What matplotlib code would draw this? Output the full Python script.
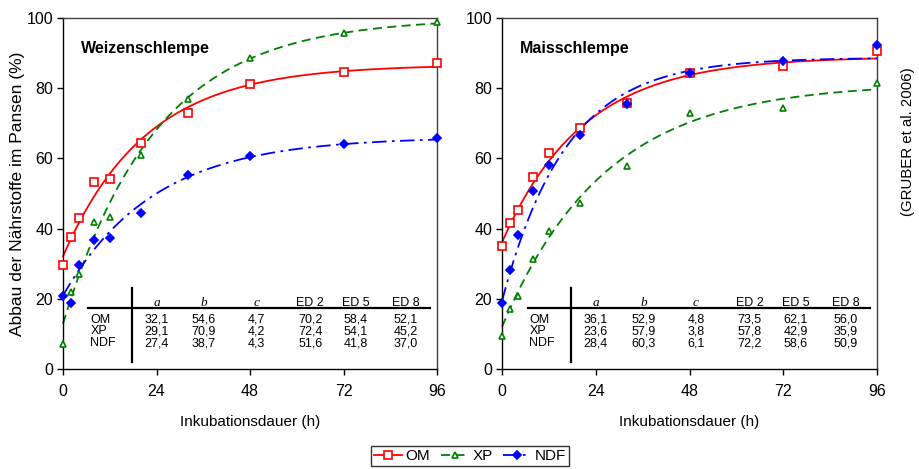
import numpy as np
import matplotlib
matplotlib.use("Agg")
import matplotlib.pyplot as plt
from matplotlib.lines import Line2D

plt.rcParams['font.family'] = ['Liberation Sans', 'DejaVu Sans']

# ---------------- data ----------------
hours = [0, 2, 4, 8, 12, 20, 32, 48, 72, 96]

weizen_om = [29.6, 37.5, 43.0, 53.2, 54.0, 64.5, 73.0, 81.2, 84.6, 87.3]
weizen_xp = [7.0, 22.0, 27.2, 42.0, 43.2, 61.0, 76.8, 88.5, 95.8, 98.9]
weizen_ndf = [20.8, 18.9, 29.5, 36.8, 37.4, 44.5, 55.4, 60.6, 64.0, 65.7]

mais_om = [35.0, 41.5, 45.3, 54.6, 61.6, 68.6, 75.8, 84.3, 86.4, 90.6]
mais_xp = [9.5, 17.0, 20.8, 31.2, 39.4, 47.2, 57.8, 73.0, 74.3, 81.6]
mais_ndf = [18.7, 28.2, 38.3, 50.7, 58.1, 66.8, 75.6, 84.4, 87.8, 92.2]

series_names = ["OM", "XP", "NDF"]
table_cols = ["a", "b", "c", "ED 2", "ED 5", "ED 8"]

weizen_table = [["32,1", "54,6", "4,7", "70,2", "58,4", "52,1"],
                ["29,1", "70,9", "4,2", "72,4", "54,1", "45,2"],
                ["27,4", "38,7", "4,3", "51,6", "41,8", "37,0"]]
mais_table = [["36,1", "52,9", "4,8", "73,5", "62,1", "56,0"],
              ["23,6", "57,9", "3,8", "57,8", "42,9", "35,9"],
              ["28,4", "60,3", "6,1", "72,2", "58,6", "50,9"]]

# fitted model parameters (a, b, c in %/h) and lag time (h)
weizen_a = [32.1, 29.1, 27.4]
weizen_b = [54.6, 70.9, 38.7]
weizen_c = [4.7, 4.2, 4.3]
weizen_lag = [0.0, 4.9, 3.6]
mais_a = [36.1, 23.6, 28.4]
mais_b = [52.9, 57.9, 60.3]
mais_c = [4.8, 3.8, 6.1]
mais_lag = [0.0, 4.8, 2.3]

# ---------------- styles ----------------
colors = ["#FF0000", "#008000", "#0000FF"]
markers = ["s", "^", "D"]
mfc = ["white", "white", "#0000FF"]
msizes = [5.2, 4.8, 4.0]
lstyles = ["-", (0, (5, 3)), (0, (8, 3, 1.5, 3))]

fig = plt.figure(figsize=(9.19, 4.69), dpi=100)
ax1 = fig.add_axes([63 / 919, 1 - 369 / 469, 374 / 919, 351 / 469])
ax2 = fig.add_axes([502 / 919, 1 - 369 / 469, 375 / 919, 351 / 469])

panels = [
    (ax1, "Weizenschlempe", [weizen_om, weizen_xp, weizen_ndf], weizen_table,
     weizen_a, weizen_b, weizen_c, weizen_lag),
    (ax2, "Maisschlempe", [mais_om, mais_xp, mais_ndf], mais_table,
     mais_a, mais_b, mais_c, mais_lag),
]

tt = np.linspace(0, 96, 300)
for ax, title, data, table, A, B, C, L in panels:
    for i in range(3):
        curve = A[i] + B[i] * (1 - np.exp(-C[i] / 100.0 * (tt - L[i])))
        ax.plot(tt, curve, color=colors[i], linestyle=lstyles[i], lw=1.3,
                clip_on=False, zorder=2)
        ax.plot(hours, data[i], linestyle="none", marker=markers[i],
                markersize=msizes[i], markerfacecolor=mfc[i],
                markeredgecolor=colors[i], markeredgewidth=1.2,
                clip_on=False, zorder=3)
    ax.set_xlim(0, 96)
    ax.set_ylim(0, 100)
    ax.set_xticks([0, 24, 48, 72, 96])
    ax.set_yticks([0, 20, 40, 60, 80, 100])
    ax.tick_params(direction="out", length=4, width=1, labelsize=11.5,
                   colors="black", pad=3)
    ax.tick_params(axis="x", pad=7)
    for s in ["left", "bottom"]:
        ax.spines[s].set_color("black")
        ax.spines[s].set_linewidth(1.0)
    for s in ["top", "right"]:
        ax.spines[s].set_color("#404040")
        ax.spines[s].set_linewidth(1.0)
    ax.set_xlabel("Inkubationsdauer (h)", fontsize=11, labelpad=11)
    ax.text(0.047, 0.935, title, transform=ax.transAxes, fontsize=11.5,
            fontweight="bold", va="top", ha="left")

    # ---- inline table ----
    col_x = [0.25, 0.377, 0.517, 0.661, 0.783, 0.917]
    y_head = 0.188
    y_rows = [0.141, 0.107, 0.073]
    for j, col in enumerate(table_cols):
        if j < 3:
            ax.text(col_x[j], y_head, col, transform=ax.transAxes,
                    ha="center", va="center", fontsize=9.5,
                    family=["Liberation Serif", "DejaVu Serif"], style="italic")
        else:
            ax.text(col_x[j], y_head, col, transform=ax.transAxes,
                    ha="center", va="center", fontsize=9)
    for r, name in enumerate(series_names):
        ax.text(0.073, y_rows[r], name, transform=ax.transAxes,
                ha="left", va="center", fontsize=9)
        for j in range(6):
            ax.text(col_x[j], y_rows[r], table[r][j], transform=ax.transAxes,
                    ha="center", va="center", fontsize=9)
    ax.plot([0.068, 0.982], [0.173, 0.173], transform=ax.transAxes,
            color="black", lw=1.6, clip_on=False, zorder=4)
    ax.plot([0.185, 0.185], [0.02, 0.23], transform=ax.transAxes,
            color="black", lw=1.6, clip_on=False, zorder=4)

ax1.set_ylabel("Abbau der Nährstoffe im Pansen (%)", fontsize=12.5, labelpad=1)

fig.text(908 / 919, 1 - 142 / 469, "(GRUBER et al. 2006)", rotation=90,
         ha="center", va="center", fontsize=10.8)

handles = [Line2D([], [], color=colors[i], linestyle=lstyles[i], lw=1.3,
                  marker=markers[i], markersize=msizes[i],
                  markerfacecolor=mfc[i], markeredgecolor=colors[i],
                  markeredgewidth=1.2) for i in range(3)]
leg = fig.legend(handles, series_names, loc="center",
                 bbox_to_anchor=(470 / 919, 1 - 456 / 469), ncol=3,
                 fontsize=11, frameon=True, fancybox=False,
                 edgecolor="black", handlelength=1.8, handletextpad=0.25,
                 columnspacing=0.7, borderpad=0.2, borderaxespad=0)
leg.get_frame().set_linewidth(1.0)

fig.savefig("out.png", dpi=100)
